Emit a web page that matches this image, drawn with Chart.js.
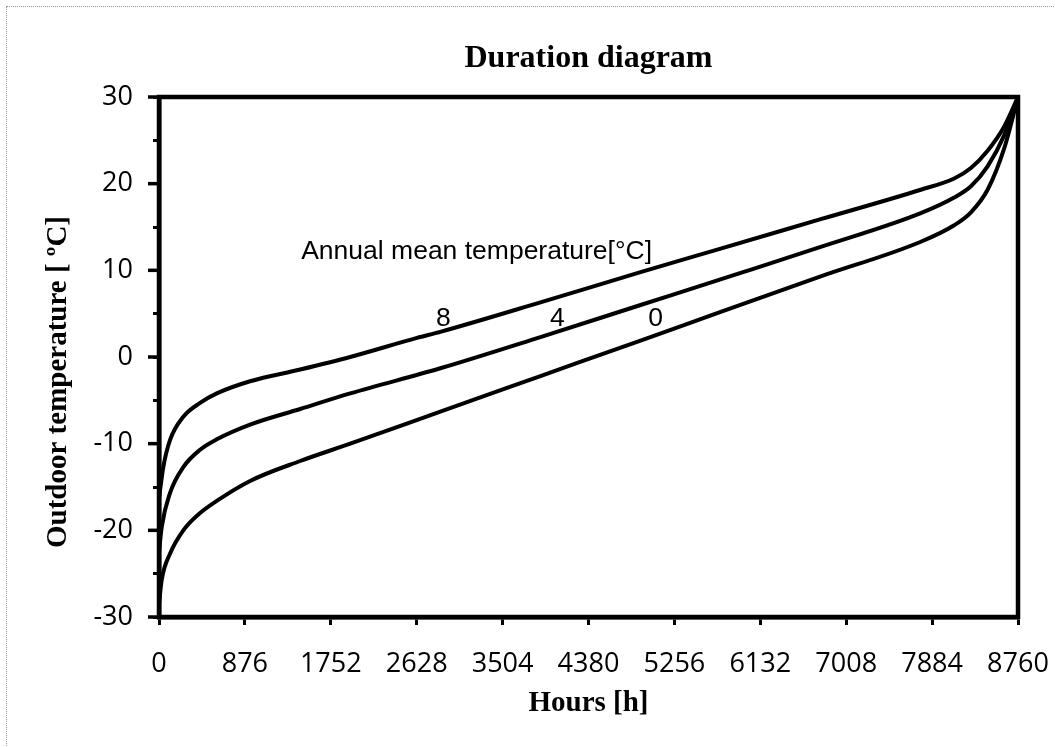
<!DOCTYPE html>
<html>
<head>
<meta charset="utf-8">
<script src="https://cdn.jsdelivr.net/npm/chart.js@4.4.1/dist/chart.umd.min.js"></script>
<style>
  html, body { margin: 0; padding: 0; background: #fff; overflow: hidden; }
  #frame { position: absolute; left: 6px; top: 6px; width: 1200px; height: 900px; border: 1px dotted #9a9a9a; }
  #wrap { position: absolute; left: 0; top: 0; width: 1055px; height: 747px; }
</style>
</head>
<body>
<div id="frame"></div>
<div id="wrap"><canvas id="durationChart" width="1055" height="747"></canvas></div>
<script>
// hours of the year (sorted duration) and outdoor temperature, per annual mean temperature
const hours8 = [0, 44, 112, 248, 419, 589, 929, 1440, 1950, 2631, 2869, 3890, 4911, 5728, 6748, 7769, 8109, 8280, 8450, 8620, 8760];
const temp8 = [-16.3, -12.7, -9.6, -6.9, -5.3, -4.2, -2.8, -1.45, 0.0, 2.2, 2.9, 6.3, 9.8, 12.5, 15.9, 19.3, 20.6, 21.8, 23.8, 26.6, 30];

const hours4 = [0, 28, 112, 248, 419, 589, 929, 1440, 1950, 2869, 3890, 4911, 5932, 6748, 7769, 8109, 8280, 8450, 8620, 8760];
const temp4 = [-22.5, -19.6, -15.7, -12.7, -10.7, -9.5, -7.8, -6.0, -4.2, -1.3, 2.3, 6.0, 9.7, 12.7, 16.6, 18.4, 19.7, 22.0, 25.6, 30];

const hours0 = [0, 28, 112, 248, 419, 589, 929, 1440, 1950, 2869, 3890, 4911, 5728, 6748, 7769, 8109, 8280, 8450, 8620, 8760];
const temp0 = [-28.5, -25.7, -22.7, -20.0, -18.0, -16.6, -14.3, -12.0, -10.0, -6.3, -2.2, 1.9, 5.2, 9.3, 13.3, 15.2, 16.7, 19.3, 24.1, 30];

const xTicks = [0, 876, 1752, 2628, 3504, 4380, 5256, 6132, 7008, 7884, 8760];
const yTicks = [-30, -20, -10, 0, 10, 20, 30];

function toPoints(xs, ys) {
    return xs.map((x, i) => ({ x: x, y: ys[i] }));
}

function lineSet(label, xs, ys) {
    return {
        label: label,
        data: toPoints(xs, ys),
        borderColor: '#000',
        borderWidth: 4,
        pointRadius: 0,
        fill: false,
        cubicInterpolationMode: 'monotone'
    };
}

// text notes placed in data units
const notes = [
    { text: 'Annual mean temperature[°C]', x: 1450, y: 12.1, align: 'left' },
    { text: '8', x: 2900, y: 4.4, align: 'center' },
    { text: '4', x: 4063, y: 4.4, align: 'center' },
    { text: '0', x: 5064, y: 4.4, align: 'center' }
];

const framePlugin = {
    id: 'frame',
    afterDatasetsDraw(chart) {
        const { ctx, chartArea, scales } = chart;
        ctx.save();
        // box round the plot area
        ctx.strokeStyle = '#000';
        ctx.lineWidth = 4.5;
        ctx.strokeRect(chartArea.left, chartArea.top, chartArea.right - chartArea.left, chartArea.bottom - chartArea.top);

        // major y ticks a bit longer than the minor ones
        ctx.lineWidth = 3.5;
        yTicks.forEach(v => {
            const py = scales.y.getPixelForValue(v);
            ctx.beginPath();
            ctx.moveTo(chartArea.left - 11, py);
            ctx.lineTo(chartArea.left, py);
            ctx.stroke();
        });

        ctx.fillStyle = '#000';
        ctx.font = '26.5px "Liberation Sans", Arial, sans-serif';
        ctx.textBaseline = 'middle';
        notes.forEach(n => {
            ctx.textAlign = n.align;
            ctx.fillText(n.text, scales.x.getPixelForValue(n.x), scales.y.getPixelForValue(n.y));
        });

        // y axis title, sits a bit below the middle like in the original
        ctx.translate(59, 382);
        ctx.rotate(-Math.PI / 2);
        ctx.textAlign = 'center';
        ctx.font = 'bold 29px "Liberation Serif", "Times New Roman", serif';
        ctx.fillText('Outdoor temperature [ ºC]', 0, 0);
        ctx.restore();
    }
};

const ctx = document.getElementById('durationChart').getContext('2d');
const durationChart = new Chart(ctx, {
    type: 'line',
    data: {
        datasets: [
            lineSet('8', hours8, temp8),
            lineSet('4', hours4, temp4),
            lineSet('0', hours0, temp0)
        ]
    },
    options: {
        responsive: false,
        animation: false,
        layout: { padding: { left: 0, top: 20, right: 37, bottom: 26 } },
        plugins: {
            legend: { display: false },
            tooltip: { enabled: false },
            title: {
                display: true,
                text: 'Duration diagram',
                fullSize: false,
                color: '#000',
                font: { family: '"Liberation Serif", "Times New Roman", serif', size: 32, weight: 'bold' },
                padding: { top: 20, bottom: 18.6 }
            }
        },
        scales: {
            x: {
                type: 'linear',
                min: 0,
                max: 8760,
                afterBuildTicks: scale => { scale.ticks = xTicks.map(v => ({ value: v })); },
                afterFit: scale => {
                    scale.height = 747 - 617 - 26;
                    scale.paddingLeft = 0;
                    scale.paddingRight = 0;
                },
                border: { display: true, color: '#000', width: 4.5 },
                grid: { drawOnChartArea: false, drawTicks: true, tickLength: 8, tickWidth: 3, tickColor: '#000' },
                ticks: {
                    color: '#000',
                    padding: 23,
                    maxRotation: 0,
                    autoSkip: false,
                    font: { family: '"Open Sans", sans-serif', size: 27 },
                    callback: v => String(v)
                },
                title: {
                    display: true,
                    text: 'Hours [h]',
                    color: '#000',
                    font: { family: '"Liberation Serif", "Times New Roman", serif', size: 29, weight: 'bold' },
                    padding: { top: 0, bottom: 0 }
                }
            },
            y: {
                min: -30,
                max: 30,
                ticks: {
                    stepSize: 5,
                    color: '#000',
                    padding: 20,
                    autoSkip: false,
                    font: { family: '"Open Sans", sans-serif', size: 27 },
                    callback: v => (yTicks.includes(v) ? String(v) : '')
                },
                afterFit: scale => { scale.width = 159; },
                border: { display: true, color: '#000', width: 4.5 },
                grid: { drawOnChartArea: false, drawTicks: true, tickLength: 6, tickWidth: 3, tickColor: '#000' }
            }
        }
    },
    plugins: [framePlugin]
});
</script>
</body>
</html>
